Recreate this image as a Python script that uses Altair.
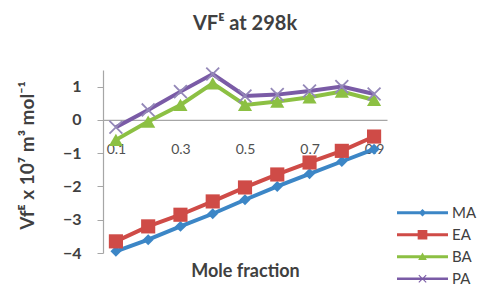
import altair as alt
import pandas as pd

fractions = ["0.1", "0.2", "0.3", "0.4", "0.5", "0.6", "0.7", "0.8", "0.9"]
series = ["MA", "EA", "BA", "PA"]
ma = [-3.95, -3.6, -3.2, -2.82, -2.4, -2.0, -1.62, -1.25, -0.88]
ea = [-3.65, -3.2, -2.85, -2.45, -2.03, -1.64, -1.28, -0.93, -0.5]
ba = [-0.6, -0.05, 0.45, 1.1, 0.45, 0.55, 0.68, 0.85, 0.6]
pa = [-0.22, 0.3, 0.85, 1.38, 0.72, 0.76, 0.87, 1.0, 0.78]
x_labels = ["0.1", "0.3", "0.5", "0.7", "0.9"]
y_ticks = [-4, -3, -2, -1, 0, 1]

line_colors = ["#3C86C6", "#CF4B47", "#8CC043", "#7A5BA6"]
marker_colors = ["#3C86C6", "#CF4B47", "#8CC043", "#9488B8"]
marker_shapes = ["diamond", "square", "triangle-up",
                 "M-1,-0.82L-0.82,-1L0,-0.18L0.82,-1L1,-0.82L0.18,0L1,0.82L0.82,1L0,0.18L-0.82,1L-1,0.82L-0.18,0Z"]
marker_sizes = [120, 200, 200, 200]

legend_shapes = [
    "M-1,-0.06L1,-0.06L1,0.06L-1,0.06Z M-0.15,0L0,-0.15L0.15,0L0,0.15Z",
    "M-1,-0.06L1,-0.06L1,0.06L-1,0.06Z M-0.19,-0.19L0.19,-0.19L0.19,0.19L-0.19,0.19Z",
    "M-1,-0.06L1,-0.06L1,0.06L-1,0.06Z M-0.17,0.13L0,-0.17L0.17,0.13Z",
    "M-1,-0.05L1,-0.05L1,0.05L-1,0.05Z M-0.16,-0.13L-0.13,-0.16L0,-0.03L0.13,-0.16L0.16,-0.13L0.03,0L0.16,0.13L0.13,0.16L0,0.03L-0.13,0.16L-0.16,0.13L-0.03,0Z",
]

rows = []
for name, vals in zip(series, [ma, ea, ba, pa]):
    for f, v in zip(fractions, vals):
        rows.append({"fraction": f, "value": v, "series": name})
df = pd.DataFrame(rows)

y_min, y_max = -4, 1.5
W, H = 284, 183
font = "Lato"
axis_offset = -H * (0 - y_min) / (y_max - y_min)

x_enc = alt.X(
    "fraction:O",
    scale=alt.Scale(type="point", padding=0.4, domain=fractions),
    axis=alt.Axis(
        values=x_labels, ticks=False, grid=False, labelAngle=0,
        domainColor="#A6A6A6", domainWidth=1.2, offset=axis_offset,
        labelPadding=23, labelFontSize=14, labelColor="#505050", labelFont=font,
        title="Mole fraction", titleFontSize=18, titleFontWeight="bold",
        titleColor="#404040", titleFont=font, titleY=152, titleBaseline="middle",
    ),
)
y_enc = alt.Y(
    "value:Q",
    scale=alt.Scale(domain=[y_min, y_max], nice=False, zero=False),
    axis=alt.Axis(
        values=y_ticks, grid=False, domainColor="#A6A6A6", domainWidth=1.2,
        tickColor="#A6A6A6", tickSize=6, labelPadding=16, labelFontSize=16,
        labelFontWeight="bold", labelColor="#404040", labelFont=font,
        title="Vfᴱ x 10⁷ m³ mol⁻¹", titleFontSize=19, titleFontWeight="bold",
        titleColor="#404040", titleFont=font, titleX=-76, titleY=85,
        titleAlign="center", titleBaseline="middle", titleAngle=270,
    ),
)

base = alt.Chart(df)
layers = []
for i, name in enumerate(series):
    sub = base.transform_filter(alt.datum.series == name)
    layers.append(sub.mark_line(color=line_colors[i], strokeWidth=4).encode(x=x_enc, y=y_enc))
    layers.append(sub.mark_point(shape=marker_shapes[i], filled=True, opacity=1,
                                 color=marker_colors[i], size=marker_sizes[i]).encode(x=x_enc, y=y_enc))

legend_layer = base.mark_point(filled=True, size=0, opacity=1).encode(
    x=x_enc, y=y_enc,
    color=alt.Color("series:N", scale=alt.Scale(domain=series, range=line_colors),
                    legend=alt.Legend(
                        title=None, orient="none", legendX=294, legendY=132,
                        symbolSize=2601, symbolOpacity=1, symbolStrokeWidth=0,
                        labelFontSize=15, labelColor="#404040", labelFont=font,
                        labelOffset=4, rowPadding=0, clipHeight=21.5,
                    )),
    shape=alt.Shape("series:N", scale=alt.Scale(domain=series, range=legend_shapes)),
)
layers.append(legend_layer)

chart = alt.layer(*layers).properties(
    width=W, height=H,
    autosize=alt.AutoSizeParams(type="none"),
    padding={"left": 95, "top": 62, "right": 90, "bottom": 37},
    title=alt.TitleParams("VFᴱ at 298k", fontSize=20, fontWeight="bold",
                          color="#404040", font=font, anchor="middle", offset=32),
).configure_view(stroke=None)

chart.save("out.html", embed_options={"renderer": "svg", "actions": False})
